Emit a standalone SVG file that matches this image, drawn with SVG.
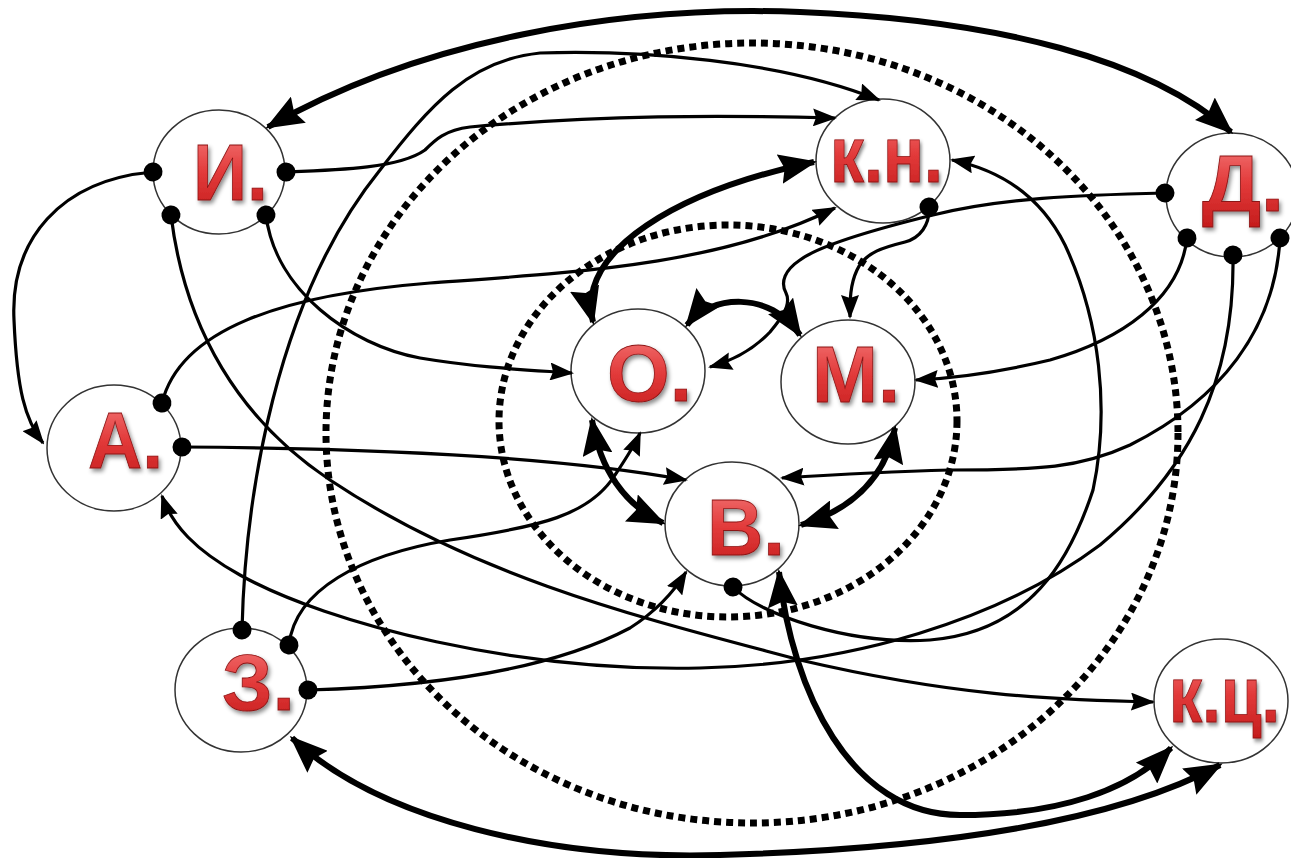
<svg xmlns="http://www.w3.org/2000/svg" width="1291" height="858" viewBox="0 0 1291 858">
<style>
.node{fill:#fff;stroke:#333;stroke-width:1.5}
.lbl{font-family:"Liberation Sans",Arial,sans-serif;font-weight:bold;font-size:80px;fill:url(#red);stroke:#8b1212;stroke-width:0.8;filter:url(#sh)}
.dotted{fill:none;stroke:#000;stroke-width:7;stroke-dasharray:7 5}
.thin{fill:none;stroke:#000;stroke-width:3.2;marker-start:url(#dot);marker-end:url(#arr)}
.thick{fill:none;stroke:#000;stroke-width:6;marker-start:url(#big);marker-end:url(#big)}
</style>
<defs>
<linearGradient id="red" x1="0" y1="0" x2="0" y2="1">
<stop offset="0" stop-color="#f47a7a"/>
<stop offset="0.5" stop-color="#e23a3a"/>
<stop offset="1" stop-color="#c41c1c"/>
</linearGradient>
<filter id="sh" x="-20%" y="-20%" width="140%" height="150%">
<feDropShadow dx="2" dy="3" stdDeviation="2" flood-color="#000" flood-opacity="0.45"/>
</filter>
<marker id="arr" markerUnits="userSpaceOnUse" viewBox="0 0 24 18" refX="22" refY="9" markerWidth="24" markerHeight="18" orient="auto">
<path d="M0,0 L24,9 L0,18 L3,9 z" fill="#000"/>
</marker>
<marker id="big" markerUnits="userSpaceOnUse" viewBox="0 0 38 30" refX="35" refY="15" markerWidth="38" markerHeight="30" orient="auto-start-reverse">
<path d="M0,0 L38,15 L0,30 L5,15 z" fill="#000"/>
</marker>
<marker id="dot" markerUnits="userSpaceOnUse" viewBox="0 0 20 20" refX="10" refY="10" markerWidth="20" markerHeight="20" orient="auto">
<circle cx="10" cy="10" r="9.5" fill="#000"/>
</marker>
</defs>
<rect width="1291" height="858" fill="#fff"/>
<g id="rings">
<ellipse class="dotted" cx="752" cy="433" rx="426" ry="390"/>
<ellipse class="dotted" cx="728" cy="421" rx="229" ry="196"/>
</g>
<g id="node-I"><ellipse class="node" cx="219" cy="172" rx="66" ry="62"/><text class="lbl" x="193" y="200" textLength="75" lengthAdjust="spacingAndGlyphs">И.</text></g>
<g id="node-KN"><ellipse class="node" cx="883" cy="161" rx="67" ry="62"/><text class="lbl" transform="translate(830,182) scale(0.85,1)" font-size="78">к.н.</text></g>
<g id="node-D"><ellipse class="node" cx="1232" cy="195" rx="66" ry="62"/><text class="lbl" x="1202" y="211" textLength="82" lengthAdjust="spacingAndGlyphs">Д.</text></g>
<g id="node-A"><ellipse class="node" cx="114" cy="448" rx="67" ry="63"/><text class="lbl" x="88" y="468" textLength="75" lengthAdjust="spacingAndGlyphs">А.</text></g>
<g id="node-O"><ellipse class="node" cx="638" cy="371" rx="67" ry="62"/><text class="lbl" x="607" y="401" textLength="85" lengthAdjust="spacingAndGlyphs">О.</text></g>
<g id="node-M"><ellipse class="node" cx="848" cy="382" rx="67" ry="62"/><text class="lbl" x="812" y="402" textLength="88" lengthAdjust="spacingAndGlyphs">М.</text></g>
<g id="node-V"><ellipse class="node" cx="732" cy="524" rx="67" ry="62"/><text class="lbl" x="707" y="555" textLength="78" lengthAdjust="spacingAndGlyphs">В.</text></g>
<g id="node-Z"><ellipse class="node" cx="241" cy="690" rx="66" ry="62"/><text class="lbl" x="222" y="710" textLength="73" lengthAdjust="spacingAndGlyphs">З.</text></g>
<g id="node-KC"><ellipse class="node" cx="1221" cy="701" rx="67" ry="62"/><text class="lbl" transform="translate(1169,722) scale(0.83,1)" font-size="78">к.ц.</text></g>
<g id="connectors">
<path class="thick" d="M268,127 C420,40 620,5 800,12 C1000,20 1150,60 1231,132"/>
<path class="thick" d="M292,738 C380,820 550,860 720,855 C900,850 1100,830 1220,765"/>
<path class="thick" d="M779,572 C792,690 850,815 960,815 C1060,815 1130,790 1171,748"/>
<path class="thick" d="M593,322 C575,250 680,190 814,162"/>
<path class="thick" d="M687,325 C710,295 770,290 800,335"/>
<path class="thick" d="M592,420 C600,470 625,505 663,523"/>
<path class="thick" d="M895,428 C885,480 850,510 801,525"/>
<path class="thin" d="M153,172 C60,180 10,240 14,320 C17,390 25,420 43,443"/>
<path class="thin" d="M286,172 C340,170 400,168 425,150 C435,140 445,130 470,127 C600,115 720,115 835,118"/>
<path class="thin" d="M242,630 C245,500 275,300 380,170 C430,105 470,60 540,53 C640,50 780,60 879,100"/>
<path class="thin" d="M171,215 C185,330 240,420 330,480 C480,580 650,620 800,660 C950,695 1050,700 1153,702"/>
<path class="thin" d="M266,215 C275,290 350,345 420,358 C480,368 530,370 572,373"/>
<path class="thin" d="M162,403 C180,330 280,295 430,283 C580,272 720,265 835,208"/>
<path class="thin" d="M1165,193 C1080,195 1000,198 933,215 C880,228 820,245 800,260 C785,270 780,282 786,293 C792,305 780,320 770,332 C755,348 735,360 710,367"/>
<path class="thin" d="M929,207 C930,225 920,238 905,242 C885,247 865,252 857,270 C850,285 850,300 850,317"/>
<path class="thin" d="M1187,238 C1180,300 1120,340 1050,360 C1000,372 960,378 916,380"/>
<path class="thin" d="M1233,255 C1235,380 1190,470 1100,545 C1000,620 850,665 700,668 C520,672 330,625 240,575 C195,550 172,525 162,496"/>
<path class="thin" d="M1280,238 C1275,330 1220,400 1130,445 C1080,468 1040,470 950,470 C880,472 830,475 782,478"/>
<path class="thin" d="M733,587 C760,615 850,645 930,640 C1030,632 1070,560 1093,490 C1110,410 1100,320 1065,245 C1040,195 1000,170 952,160"/>
<path class="thin" d="M182,447 C350,448 550,455 686,480"/>
<path class="thin" d="M289,645 C295,590 360,555 450,540 C540,527 590,515 615,475 C625,460 635,445 640,433"/>
<path class="thin" d="M308,690 C450,686 560,665 630,628 C655,612 672,595 686,572"/>
</g>
</svg>
